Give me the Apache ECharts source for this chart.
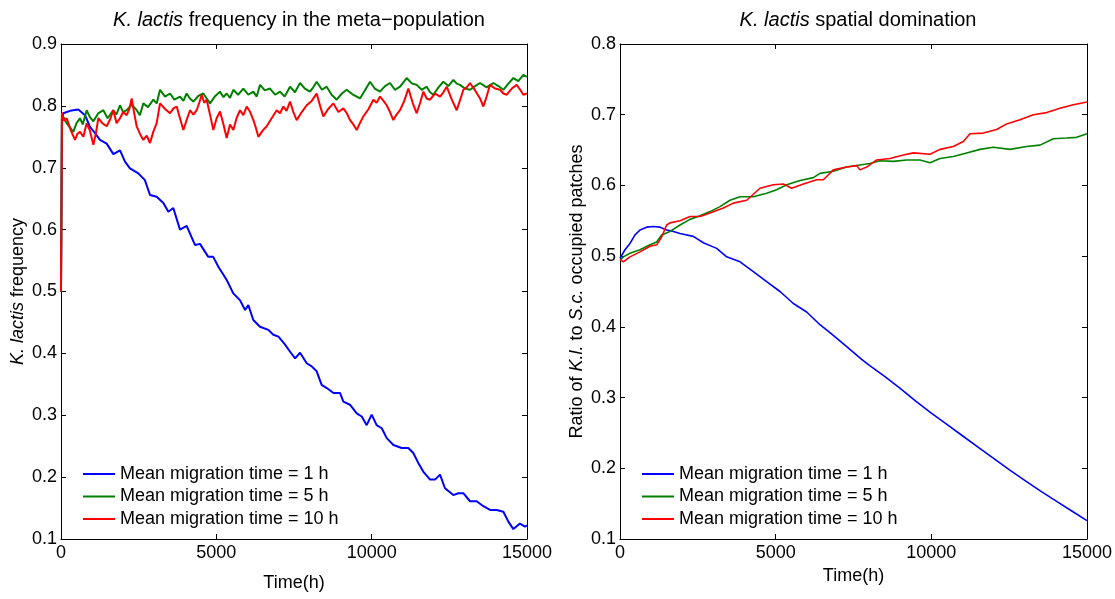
<!DOCTYPE html>
<html>
<head>
<meta charset="utf-8">
<script src="https://cdn.jsdelivr.net/npm/echarts@6/dist/echarts.min.js"></script>
<style>
html,body{margin:0;padding:0;background:#fff;}
#chart{width:1115px;height:599px;}
</style>
</head>
<body>
<div id="chart"></div>
<script>
// ---- data (time in h, value) ----
const seriesNames = ['Mean migration time = 1 h', 'Mean migration time = 5 h', 'Mean migration time = 10 h'];
const xTicks = [0, 5000, 10000, 15000];

// Left panel: K. lactis frequency
const freqBlue = [[0,0.5],[30,0.78],[75,0.788],[290,0.792],[558,0.794],[773,0.785],[933,0.766],[1095,0.756],[1255,0.745],[1470,0.739],[1685,0.722],[1900,0.728],[2060,0.710],[2220,0.699],[2490,0.691],[2700,0.680],[2865,0.656],[3080,0.653],[3295,0.643],[3455,0.629],[3615,0.635],[3830,0.600],[4045,0.606],[4315,0.575],[4475,0.577],[4740,0.556],[4900,0.556],[5065,0.540],[5330,0.519],[5545,0.497],[5760,0.486],[5925,0.470],[6030,0.478],[6190,0.454],[6405,0.443],[6675,0.438],[6835,0.430],[7000,0.427],[7200,0.415],[7370,0.403],[7535,0.392],[7695,0.401],[7910,0.384],[8070,0.379],[8230,0.371],[8390,0.349],[8555,0.344],[8770,0.336],[8980,0.336],[9090,0.322],[9300,0.317],[9520,0.303],[9680,0.298],[9840,0.284],[10000,0.301],[10160,0.284],[10325,0.279],[10485,0.263],[10700,0.252],[10965,0.247],[11180,0.247],[11340,0.239],[11500,0.223],[11660,0.209],[11880,0.196],[12040,0.196],[12200,0.204],[12360,0.182],[12630,0.171],[12790,0.174],[12950,0.174],[13165,0.161],[13380,0.161],[13595,0.153],[13810,0.147],[14025,0.147],[14240,0.144],[14400,0.128],[14560,0.116],[14775,0.125],[14935,0.120],[15000,0.122]];
const freqGreen = [[0,0.5],[30,0.786],[100,0.780],[183,0.772],[290,0.765],[397,0.758],[500,0.772],[612,0.780],[700,0.770],[826,0.793],[930,0.782],[1041,0.775],[1200,0.788],[1363,0.793],[1500,0.780],[1685,0.793],[1780,0.786],[1899,0.801],[2000,0.790],[2114,0.793],[2280,0.802],[2436,0.793],[2540,0.785],[2650,0.804],[2800,0.798],[2972,0.810],[3080,0.804],[3187,0.826],[3350,0.815],[3509,0.820],[3650,0.810],[3831,0.815],[3940,0.808],[4045,0.820],[4150,0.812],[4260,0.807],[4420,0.816],[4582,0.820],[4690,0.812],[4796,0.804],[4950,0.815],[5118,0.823],[5230,0.814],[5333,0.820],[5440,0.813],[5548,0.826],[5700,0.818],[5870,0.828],[6030,0.818],[6191,0.823],[6300,0.815],[6406,0.834],[6560,0.825],[6728,0.828],[6890,0.818],[7050,0.823],[7200,0.815],[7372,0.831],[7530,0.822],[7694,0.837],[7850,0.828],[8015,0.823],[8120,0.830],[8230,0.839],[8400,0.826],[8552,0.831],[8710,0.818],[8874,0.810],[9040,0.820],[9196,0.826],[9400,0.818],[9625,0.812],[9780,0.825],[9947,0.839],[10100,0.828],[10269,0.823],[10430,0.832],[10591,0.837],[10750,0.826],[10913,0.831],[11020,0.838],[11127,0.845],[11300,0.836],[11449,0.834],[11610,0.826],[11771,0.831],[11880,0.822],[11986,0.818],[12150,0.830],[12308,0.839],[12470,0.832],[12629,0.842],[12740,0.836],[12844,0.834],[13000,0.828],[13166,0.826],[13330,0.832],[13488,0.837],[13700,0.830],[13917,0.837],[14080,0.832],[14239,0.826],[14400,0.836],[14561,0.845],[14720,0.840],[14883,0.850],[15000,0.847]];
const freqRed = [[0,0.5],[30,0.789],[100,0.776],[183,0.780],[320,0.760],[451,0.745],[530,0.755],[612,0.758],[720,0.750],[826,0.772],[930,0.760],[1041,0.737],[1120,0.755],[1202,0.780],[1330,0.772],[1470,0.767],[1580,0.778],[1685,0.793],[1790,0.772],[1899,0.780],[2000,0.790],[2114,0.785],[2200,0.795],[2275,0.812],[2350,0.790],[2436,0.767],[2540,0.755],[2650,0.745],[2760,0.752],[2865,0.740],[2970,0.758],[3080,0.772],[3187,0.804],[3350,0.795],[3509,0.788],[3620,0.796],[3724,0.799],[3830,0.780],[3938,0.761],[4050,0.778],[4153,0.793],[4260,0.786],[4367,0.793],[4450,0.805],[4528,0.818],[4610,0.805],[4689,0.810],[4800,0.785],[4904,0.761],[5010,0.780],[5118,0.791],[5230,0.770],[5333,0.748],[5440,0.770],[5548,0.761],[5650,0.780],[5763,0.793],[5870,0.785],[5977,0.799],[6090,0.790],[6192,0.777],[6270,0.765],[6353,0.750],[6490,0.760],[6621,0.767],[6780,0.780],[6943,0.793],[7050,0.788],[7157,0.799],[7260,0.792],[7372,0.807],[7480,0.790],[7586,0.777],[7750,0.790],[7908,0.801],[8070,0.808],[8230,0.820],[8340,0.800],[8445,0.783],[8600,0.795],[8767,0.804],[8930,0.790],[9089,0.796],[9200,0.788],[9304,0.777],[9410,0.770],[9518,0.761],[9620,0.772],[9733,0.783],[9900,0.795],[10055,0.810],[10160,0.805],[10269,0.815],[10380,0.808],[10483,0.801],[10590,0.790],[10698,0.777],[10800,0.786],[10913,0.793],[11050,0.808],[11181,0.828],[11320,0.805],[11449,0.788],[11560,0.805],[11664,0.823],[11770,0.812],[11878,0.810],[12040,0.820],[12200,0.815],[12310,0.822],[12415,0.831],[12580,0.810],[12737,0.793],[12850,0.810],[12952,0.826],[13060,0.830],[13166,0.837],[13330,0.825],[13488,0.812],[13595,0.799],[13700,0.815],[13810,0.834],[13970,0.828],[14132,0.826],[14240,0.820],[14347,0.818],[14510,0.828],[14669,0.834],[14780,0.826],[14883,0.818],[15000,0.820]];

// Right panel: ratio of K.l. to S.c. occupied patches
const ratioBlue = [[0,0.497],[161,0.509],[321,0.518],[482,0.530],[642,0.537],[857,0.541],[1071,0.542],[1285,0.541],[1499,0.537],[1713,0.535],[1927,0.532],[2355,0.528],[2677,0.519],[3105,0.511],[3426,0.499],[3855,0.492],[4283,0.478],[4711,0.464],[5139,0.450],[5568,0.433],[5996,0.421],[6424,0.403],[6852,0.388],[7281,0.372],[7763,0.354],[8000,0.346],[8500,0.330],[9000,0.313],[9500,0.295],[10000,0.278],[10500,0.262],[11000,0.246],[11500,0.230],[12000,0.214],[12500,0.198],[13000,0.183],[13500,0.168],[14000,0.154],[14500,0.140],[15000,0.126]];
const ratioGreen = [[0,0.494],[107,0.499],[321,0.504],[642,0.509],[964,0.516],[1178,0.520],[1338,0.530],[1606,0.535],[1927,0.544],[2248,0.552],[2570,0.557],[2891,0.563],[3212,0.570],[3533,0.579],[3855,0.584],[4283,0.584],[4711,0.589],[5032,0.594],[5354,0.601],[5782,0.607],[6210,0.611],[6424,0.617],[6852,0.620],[7281,0.626],[7709,0.629],[8030,0.631],[8352,0.635],[8780,0.634],[9208,0.636],[9636,0.636],[9958,0.632],[10279,0.638],[10707,0.641],[11135,0.646],[11564,0.651],[11992,0.654],[12527,0.651],[13062,0.655],[13491,0.657],[13919,0.666],[14347,0.667],[14668,0.668],[15000,0.673]];
const ratioRed = [[0,0.495],[107,0.492],[321,0.499],[642,0.506],[964,0.514],[1178,0.516],[1338,0.527],[1499,0.544],[1606,0.547],[1927,0.550],[2248,0.556],[2570,0.556],[2891,0.561],[3319,0.568],[3640,0.575],[4069,0.579],[4497,0.596],[4925,0.601],[5246,0.602],[5514,0.596],[5889,0.602],[6317,0.608],[6531,0.608],[6852,0.622],[7281,0.626],[7602,0.628],[7709,0.622],[7923,0.626],[8244,0.636],[8673,0.638],[9101,0.643],[9422,0.646],[9958,0.644],[10279,0.651],[10707,0.655],[11028,0.662],[11242,0.673],[11671,0.674],[12099,0.679],[12420,0.687],[12848,0.693],[13277,0.700],[13705,0.703],[14133,0.709],[14561,0.714],[15000,0.718]];

const colors = ['#0000ff', '#008000', '#ff0000'];
const FONT = "'Liberation Sans', Arial, Helvetica, sans-serif";

const chart = echarts.init(document.getElementById('chart'), null, {renderer: 'canvas'});

function xAx(grid, pos, showLabel, nameGap) {
  return {
    gridIndex: grid, type: 'value', position: pos, min: 0, max: 15000, interval: 5000,
    axisLine: {show: true, onZero: false, lineStyle: {color: '#000', width: 1}},
    axisTick: {show: true, inside: true, length: 5, lineStyle: {color: '#000'}},
    axisLabel: {show: showLabel, color: '#000', fontSize: 18, fontFamily: FONT, margin: 5, formatter: v => String(v)},
    splitLine: {show: false},
    name: showLabel ? 'Time(h)' : '', nameLocation: 'middle', nameGap: nameGap,
    nameTextStyle: {color: '#000', fontSize: 18, fontFamily: FONT}
  };
}
function yAx(grid, pos, showLabel, max, name) {
  return {
    gridIndex: grid, type: 'value', position: pos, min: 0.1, max: max, interval: 0.1,
    axisLine: {show: true, onZero: false, lineStyle: {color: '#000', width: 1}},
    axisTick: {show: true, inside: true, length: 5, lineStyle: {color: '#000'}},
    axisLabel: {show: showLabel, color: '#000', fontSize: 18, fontFamily: FONT, margin: 4, formatter: v => v.toFixed(1)},
    splitLine: {show: false},
    name: showLabel ? name : '', nameLocation: 'middle', nameGap: 34, nameRotate: 90,
    nameTextStyle: {color: '#000', fontSize: 18, fontFamily: FONT, rich: {i: {fontStyle: 'italic', fontSize: 18, fontFamily: FONT, color: '#000'}}}
  };
}
function line(name, data, xi, yi, color, w) {
  return {name: name, type: 'line', xAxisIndex: xi, yAxisIndex: yi, data: data,
    showSymbol: false, symbol: 'none', lineStyle: {color: color, width: w}, itemStyle: {color: color}, animation: false};
}
function legendAt(left) {
  return {
    left: left, top: 463, padding: 0, orient: 'vertical', icon: 'rect', itemWidth: 32, itemHeight: 2, itemGap: 0.5,
    data: seriesNames, selectedMode: false,
    textStyle: {color: '#000', fontSize: 18, fontFamily: FONT, lineHeight: 22}
  };
}

const titleRich = {i: {fontStyle: 'italic', fontSize: 20, fontFamily: FONT, color: '#000'}};
chart.setOption({
  backgroundColor: '#fff',
  animation: false,
  title: [
    {text: '{i|K. lactis} frequency in the meta\u2212population', left: 294, top: 5, textAlign: 'center',
     textStyle: {color: '#000', fontSize: 20, fontWeight: 'normal', fontFamily: FONT, rich: titleRich}},
    {text: '{i|K. lactis} spatial domination', left: 853, top: 5, textAlign: 'center',
     textStyle: {color: '#000', fontSize: 20, fontWeight: 'normal', fontFamily: FONT, rich: titleRich}}
  ],
  grid: [
    {left: 61, top: 44, width: 466, height: 495},
    {left: 620, top: 44, width: 467, height: 495}
  ],
  xAxis: [xAx(0, 'bottom', true, 35), xAx(0, 'top', false, 0), xAx(1, 'bottom', true, 25), xAx(1, 'top', false, 0)],
  yAxis: [
    yAx(0, 'left', true, 0.9, '{i|K. lactis} frequency'), yAx(0, 'right', false, 0.9, ''),
    yAx(1, 'left', true, 0.8, 'Ratio of {i|K.l.} to {i|S.c.} occupied patches'), yAx(1, 'right', false, 0.8, '')
  ],
  legend: [legendAt(83), legendAt(642)],
  series: [
    line(seriesNames[0], freqBlue, 0, 0, colors[0], 2),
    line(seriesNames[1], freqGreen, 0, 0, colors[1], 2),
    line(seriesNames[2], freqRed, 0, 0, colors[2], 2),
    line(seriesNames[0], ratioBlue, 2, 2, colors[0], 1.6),
    line(seriesNames[1], ratioGreen, 2, 2, colors[1], 1.6),
    line(seriesNames[2], ratioRed, 2, 2, colors[2], 1.6)
  ]
});
</script>
</body>
</html>
